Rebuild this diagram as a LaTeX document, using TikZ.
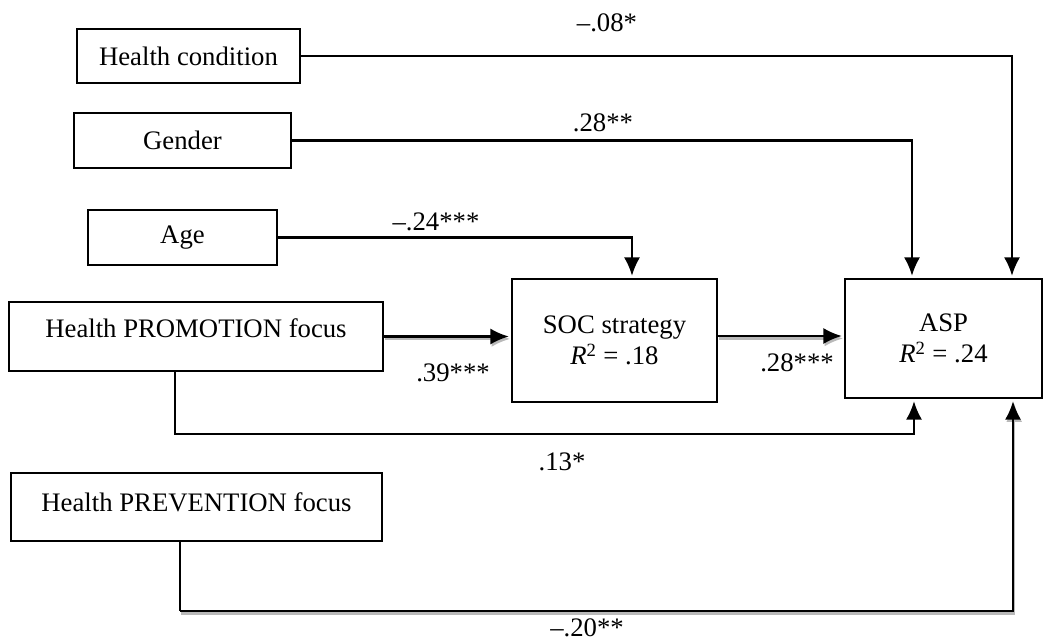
\documentclass[tikz,border=0pt]{standalone}
\usepackage{fontspec}
\setmainfont{Liberation Serif}
\usetikzlibrary{arrows.meta}

\begin{document}
\begin{tikzpicture}[x=0.025cm, y=-0.025cm, line width=1.6pt,
        every node/.append style={font=\fontsize{19}{22.5}\selectfont},
        conn/.style={-{Latex[length=4.6mm,width=4mm]}, shorten >=0.05cm},
        shade/.style={preaction={draw=gray!55, transform canvas={xshift=0.03cm,yshift=-0.06cm}}}]
      \tikzstyle{box} = [draw, rectangle, inner sep=0pt, align=center]
      \tikzstyle{coef} = [inner sep=1pt]
      \useasboundingbox (0,0) rectangle (1045,643);
      % predictors
      \node (cond) [box, minimum width=5.575cm, minimum height=1.35cm] at (188.5,56) {Health condition};
      \node (gender) [box, minimum width=5.425cm, minimum height=1.375cm] at (182.5,140.5) {Gender};
      \node (age) [box, minimum width=4.725cm, minimum height=1.375cm] at (182.5,237.5) {Age};
      \node (promo) [box, minimum width=9.35cm, minimum height=1.725cm, text depth=0.42cm] at (196,336.5) {Health PROMOTION focus};
      \node (prev) [box, minimum width=9.275cm, minimum height=1.7cm, text depth=0.25cm] at (196.5,507) {Health PREVENTION focus};
      % mediator and outcome
      \node (soc) [box, minimum width=5.125cm, minimum height=3.075cm] at (614.5,340.5) {SOC strategy\\\textit{R}\textsuperscript{2} = .18};
      \node (asp) [box, minimum width=4.925cm, minimum height=2.975cm] at (943.5,338.5) {ASP\\\textit{R}\textsuperscript{2} = .24};
      % where the lines bend
      \coordinate (xc) at (1012,0);
      \coordinate (xg) at (912,0);
      \coordinate (xa) at (632,0);
      \coordinate (xp) at (175,0);
      \coordinate (xv) at (180,0);
      \coordinate (xpa) at (914,0);
      \coordinate (xva) at (1013,0);
      \coordinate (ys) at (0,336);
      \coordinate (ypl) at (0,434);
      \coordinate (yvl) at (0,611);
      \draw[conn] (cond.east) -| (xc |- asp.north);
      \draw[conn] (gender.east) -| (xg |- asp.north);
      \draw[conn] (age.east) -| (xa |- soc.north);
      \draw[conn,shade] (promo.east) -- (promo.east -| soc.west);
      \draw[conn,shade] (soc.east |- ys) -- (asp.west |- ys);
      \draw[conn] (xp |- promo.south) |- (xpa |- ypl) -- (xpa |- asp.south);
      \draw (xv |- prev.south) -- (xv |- yvl);
      \draw[conn,shade] (xv |- yvl) -- (xva |- yvl) -- (xva |- asp.south);
      % coefficients
      \node (b1) [coef] at (607,23) {\textendash.08*};
      \node (b2) [coef] at (603,123) {.28**};
      \node (b3) [coef] at (436,222) {\textendash.24***};
      \node (b4) [coef] at (453,373) {.39***};
      \node (b5) [coef] at (797,363) {.28***};
      \node (b6) [coef] at (562,462) {.13*};
      \node (b7) [coef] at (587,628) {\textendash.20**};
\end{tikzpicture}
\end{document}
